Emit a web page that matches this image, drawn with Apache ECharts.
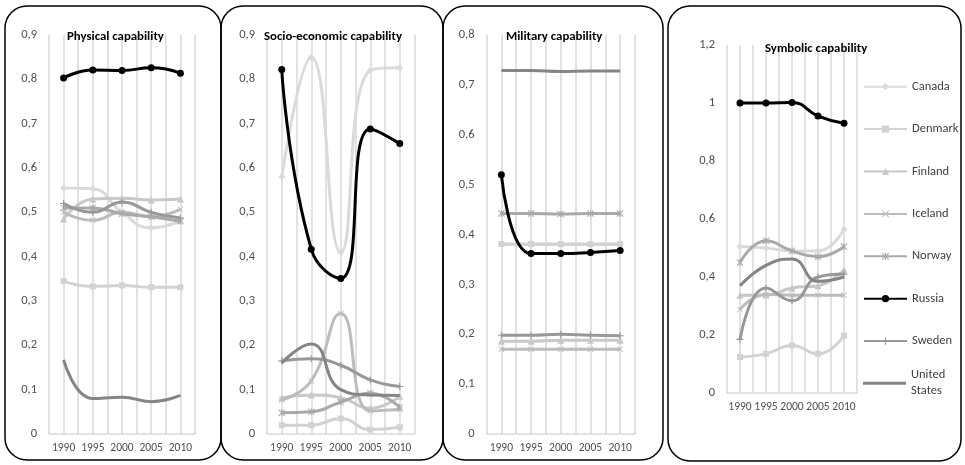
<!DOCTYPE html>
<html>
<head>
<meta charset="utf-8">
<script src="https://cdn.jsdelivr.net/npm/echarts@6/dist/echarts.min.js"></script>
<style>
  html, body { margin: 0; padding: 0; background: #fff; }
  #chart { width: 965px; height: 465px; }
</style>
</head>
<body>
<div id="chart"></div>
<script>
// Years on the horizontal axis
const years = [1990, 1995, 2000, 2005, 2010];
const countries = ['Canada', 'Denmark', 'Finland', 'Iceland', 'Norway', 'Russia', 'Sweden', 'United States'];

// One row per country, same order as `countries`
const physical = [
  [0.555, 0.553, 0.500, 0.465, 0.480],
  [0.345, 0.333, 0.335, 0.331, 0.331],
  [0.485, 0.530, 0.532, 0.528, 0.530],
  [0.500, 0.482, 0.500, 0.490, 0.507],
  [0.510, 0.510, 0.497, 0.490, 0.480],
  [0.803, 0.821, 0.820, 0.826, 0.814],
  [0.520, 0.500, 0.523, 0.500, 0.487],
  [0.167, 0.080, 0.083, 0.073, 0.087]
];
const socioEconomic = [
  [0.580, 0.850, 0.410, 0.820, 0.826],
  [0.020, 0.020, 0.035, 0.010, 0.015],
  [0.082, 0.088, 0.082, 0.058, 0.085],
  [0.077, 0.120, 0.272, 0.052, 0.055],
  [0.048, 0.050, 0.072, 0.092, 0.060],
  [0.822, 0.417, 0.351, 0.688, 0.655],
  [0.165, 0.170, 0.155, 0.122, 0.107],
  [0.160, 0.203, 0.100, 0.088, 0.087]
];
const military = [
  [0.380, 0.380, 0.380, 0.380, 0.380],
  [0.381, 0.381, 0.381, 0.381, 0.381],
  [0.186, 0.186, 0.188, 0.188, 0.188],
  [0.170, 0.170, 0.170, 0.170, 0.170],
  [0.442, 0.442, 0.441, 0.442, 0.442],
  [0.520, 0.362, 0.362, 0.364, 0.368],
  [0.198, 0.198, 0.200, 0.198, 0.197],
  [0.729, 0.729, 0.727, 0.728, 0.728]
];
const symbolic = [
  [0.505, 0.500, 0.490, 0.490, 0.565],
  [0.124, 0.135, 0.164, 0.135, 0.198],
  [0.337, 0.338, 0.362, 0.370, 0.425],
  [0.288, 0.340, 0.337, 0.337, 0.337],
  [0.450, 0.525, 0.490, 0.470, 0.505],
  [1.000, 1.000, 1.002, 0.955, 0.930],
  [0.185, 0.362, 0.318, 0.400, 0.410],
  [0.370, 0.440, 0.462, 0.385, 0.400]
];

const panelTitles = ['Physical capability', 'Socio-economic capability', 'Military capability', 'Symbolic capability'];
const panelMax = [0.9, 0.9, 0.8, 1.2];
const panelStep = [0.1, 0.1, 0.1, 0.2];

// Styling per country
const colors = ['#dadada', '#d2d2d2', '#c8c8c8', '#bcbcbc', '#a9a9a9', '#000000', '#989898', '#858585'];
const crossPath = 'path://M0,1L1,0L5,4L9,0L10,1L6,5L10,9L9,10L5,6L1,10L0,9L4,5Z';
const starPath = 'path://M0,1L1,0L5,4L9,0L10,1L6,5L10,9L9,10L5,6L1,10L0,9L4,5ZM4.3,0H5.7V10H4.3Z';
const plusPath = 'path://M4.2,0H5.8V4.2H10V5.8H5.8V10H4.2V5.8H0V4.2H4.2Z';
const symbols = ['diamond', 'rect', 'triangle', crossPath, starPath, 'circle', plusPath, 'none'];
const symbolSizes = [7, 6, 7, 6, 7, 7, 7, 0];

const FONT = 'Carlito, Lato, "Liberation Sans", sans-serif';
const GRID_COLOR = '#d9d9d9';
const LABEL_COLOR = '#505050';

const panels = [
  { data: physical,      grid: { left: 49,    top: 35, width: 146,   height: 399 }, title: { left: 67,  top: 30 } },
  { data: socioEconomic, grid: { left: 267,   top: 35, width: 147.5, height: 399 }, title: { left: 264, top: 30 } },
  { data: military,      grid: { left: 486.5, top: 35, width: 148.5, height: 399 }, title: { left: 506, top: 30 } },
  { data: symbolic,      grid: { left: 727,   top: 45, width: 130,   height: 348 }, title: { left: 765, top: 42 } }
];

const comma = v => String(+v.toFixed(2)).replace('.', ',');

const grids = [], xAxes = [], yAxes = [], titles = [], series = [];
panels.forEach((p, k) => {
  grids.push(p.grid);
  titles.push({
    text: panelTitles[k], left: p.title.left, top: p.title.top, padding: 0,
    textStyle: { fontFamily: FONT, fontSize: 12.8, fontWeight: 'bold', color: '#000' }
  });
  xAxes.push({
    type: 'value', gridIndex: k, min: 1987.5, max: 2012.5, interval: 2.5,
    axisLine: { show: true, lineStyle: { color: GRID_COLOR, width: 1.5 } },
    axisTick: { show: false },
    splitLine: { show: true, lineStyle: { color: GRID_COLOR, width: 1.5 } },
    axisLabel: {
      margin: 8, fontFamily: FONT, fontSize: 11.5, color: LABEL_COLOR,
      formatter: v => (v % 5 === 0 ? String(v) : '')
    }
  });
  yAxes.push({
    type: 'value', gridIndex: k, min: 0, max: panelMax[k], interval: panelStep[k],
    axisLine: { show: false }, axisTick: { show: false }, splitLine: { show: false },
    axisLabel: { margin: 12, fontFamily: FONT, fontSize: 12.5, color: LABEL_COLOR, formatter: comma }
  });
  countries.forEach((name, i) => {
    series.push({
      name: name, type: 'line', xAxisIndex: k, yAxisIndex: k,
      data: years.map((y, j) => [y, p.data[i][j]]),
      smooth: true,
      symbol: symbols[i], symbolSize: symbolSizes[i], showSymbol: symbols[i] !== 'none',
      lineStyle: { color: colors[i], width: 3 },
      itemStyle: { color: colors[i] },
      emphasis: { disabled: true },
      z: 2 + i
    });
  });
});

// Rounded frames around each panel
const frames = [
  { x: 5,   y: 6, width: 216, height: 454 },
  { x: 221, y: 6, width: 222, height: 454 },
  { x: 443, y: 6, width: 220, height: 454 },
  { x: 668, y: 6, width: 293, height: 455 }
].map(s => ({
  type: 'rect', shape: Object.assign({ r: 22 }, s),
  style: { fill: 'none', stroke: '#000', lineWidth: 1.5 }, silent: true, z: 0
}));

const legendCommon = {
  orient: 'vertical', left: 863, padding: 0,
  itemWidth: 43, itemHeight: 9, itemGap: 26.4,
  textStyle: { fontFamily: FONT, fontSize: 12.5, color: '#404040', lineHeight: 16 },
  selectedMode: false
};

const chart = echarts.init(document.getElementById('chart'), null, { renderer: 'canvas' });
chart.setOption({
  animation: false,
  backgroundColor: '#fff',
  title: titles,
  grid: grids,
  xAxis: xAxes,
  yAxis: yAxes,
  legend: [
    Object.assign({}, legendCommon, { top: 78.7, data: countries.slice(0, 7) }),
    // plain line swatch for the series drawn without markers
    Object.assign({}, legendCommon, {
      top: 367.3, itemHeight: 3, icon: 'rect',
      data: ['United States'], formatter: () => 'United\nStates'
    })
  ],
  graphic: frames,
  series: series
});
</script>
</body>
</html>
